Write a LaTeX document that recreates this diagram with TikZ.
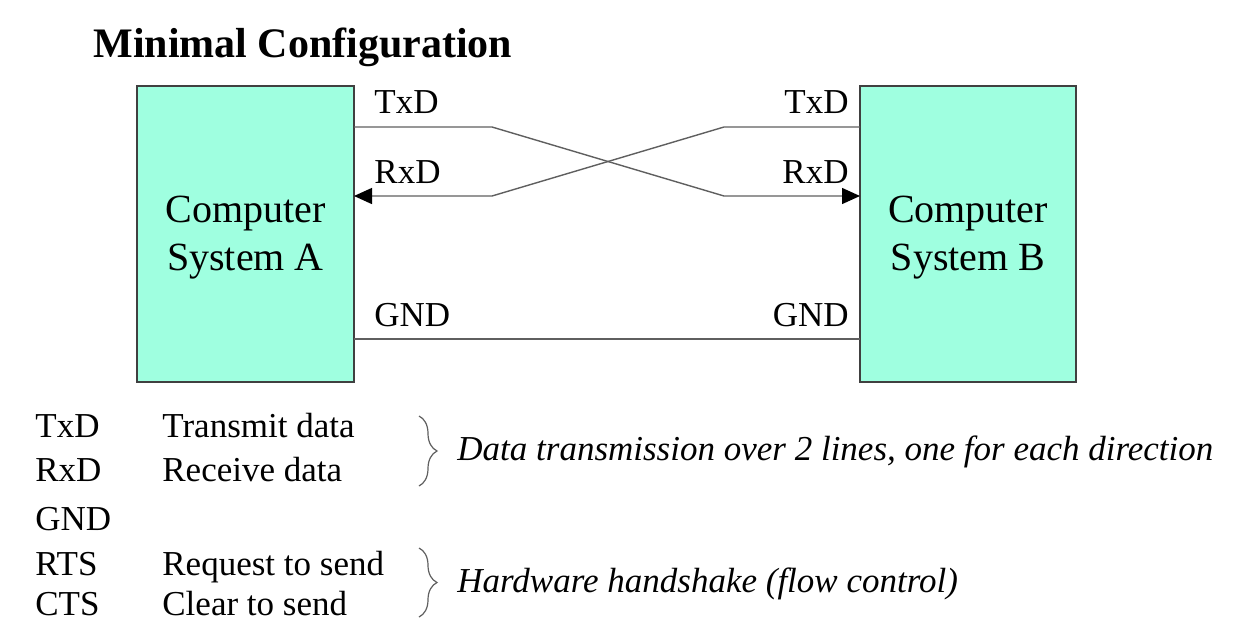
\documentclass[tikz,border=0pt]{standalone}
\usepackage{fontspec}
\setmainfont{Liberation Serif}
\usetikzlibrary{arrows.meta,decorations.pathreplacing}
\definecolor{sysgreen}{RGB}{159,255,224}
\definecolor{wiregray}{RGB}{95,95,95}
\tikzset{
  txt/.style={inner sep=0pt, font=\fontsize{17.5}{21}\selectfont},
  systxt/.style={inner sep=0pt, anchor=base, font=\fontsize{20}{24}\selectfont},
  sysbox/.style={draw=black!75, fill=sysgreen, line width=0.8pt},
  wire/.style={draw=wiregray, line width=0.7pt},
  sig/.style={wire, -{Triangle[length=9pt,width=8pt,color=black]}},
  grp/.style={draw=wiregray, line width=0.6pt,
    decorate, decoration={brace, amplitude=9pt}}
}
\begin{document}
\begin{tikzpicture}[x=0.5pt,y=-0.5pt]
\useasboundingbox (0,0) rectangle (1241,632);

\node[txt, anchor=base west, font=\fontsize{21}{24}\selectfont\bfseries] (title) at (93,57) {Minimal Configuration};

% the two systems
\draw[sysbox] (137,86) rectangle (354,382);
\draw[sysbox] (860,86) rectangle (1076,382);
\coordinate (A) at (354,86);
\coordinate (B) at (860,86);

\node[systxt] (a1) at (245.5,222) {Computer};
\node[systxt] (a2) at (245.5,270) {System A};
\node[systxt] (b1) at (968,222) {Computer};
\node[systxt] (b2) at (968,270) {System B};

% wire rows and bends
\coordinate (tx) at (0,127);
\coordinate (rx) at (0,196);
\coordinate (gnd) at (0,339);
\coordinate (txL) at (492,127);
\coordinate (rxL) at (492,196);
\coordinate (txR) at (724,127);
\coordinate (rxR) at (724,196);

\draw[sig] (A |- tx) -- (txL) -- (rxR) -- (B |- rx);
\draw[sig] (B |- tx) -- (txR) -- (rxL) -- (A |- rx);
\draw[wire] (A |- gnd) -- (B |- gnd);

\node[txt, anchor=base west] (txa) at (374,113) {TxD};
\node[txt, anchor=base west] (rxa) at (374,183) {RxD};
\node[txt, anchor=base west] (gnda) at (374,326) {GND};
\node[txt, anchor=base east] (txb) at (849,113) {TxD};
\node[txt, anchor=base east] (rxb) at (849,183) {RxD};
\node[txt, anchor=base east] (gndb) at (849,326) {GND};

% legend
\node[txt, anchor=base west] (l1) at (35,437) {TxD};
\node[txt, anchor=base west] (l2) at (35,481) {RxD};
\node[txt, anchor=base west] (l3) at (35,530) {GND};
\node[txt, anchor=base west] (l4) at (35,575) {RTS};
\node[txt, anchor=base west] (l5) at (35,615) {CTS};

\node[txt, anchor=base west] (d1) at (162,437) {Transmit data};
\node[txt, anchor=base west] (d2) at (162,481) {Receive data};
\node[txt, anchor=base west] (d4) at (162,575) {Request to send};
\node[txt, anchor=base west] (d5) at (162,615) {Clear to send};

\coordinate (g1a) at (419,416);
\coordinate (g1b) at (419,486);
\coordinate (g2a) at (419,548);
\coordinate (g2b) at (419,617);
\draw[grp] (g1a) -- (g1b);
\draw[grp] (g2a) -- (g2b);

\node[txt, anchor=base west, font=\fontsize{17.5}{21}\selectfont\itshape] (n1) at (457,460) {Data transmission over 2 lines, one for each direction};
\node[txt, anchor=base west, font=\fontsize{17.5}{21}\selectfont\itshape] (n2) at (457,592) {Hardware handshake (flow control)};

\end{tikzpicture}
\end{document}
